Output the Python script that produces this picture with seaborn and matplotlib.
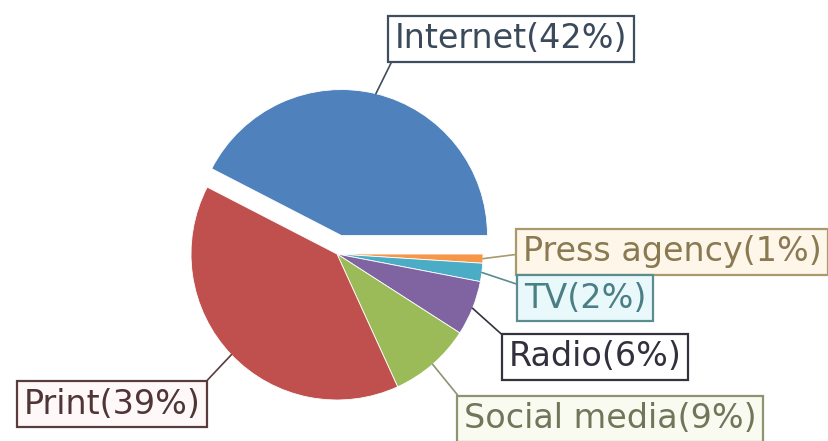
import numpy as np
import matplotlib
matplotlib.use("Agg")
import matplotlib.pyplot as plt
import seaborn as sns

# ---- data ----
categories = ["Internet", "Press agency", "TV", "Radio", "Social media", "Print"]
shares = [42, 1, 2, 6, 9, 39]
slice_colors = ["#4F81BD", "#F79646", "#4BACC6", "#8064A2", "#9BBB59", "#C0504D"]

# ---- label styling / layout (pixel coords, top-left origin) ----
label_pos = [(511, 39), (672, 252), (585, 298), (595, 357), (610, 419), (112, 404)]
label_edge = ["#3E4E5E", "#A89A6C", "#5B8C90", "#35313F", "#8C9472", "#5A3C3C"]
label_text = ["#3B4A5A", "#8A7A52", "#4A7F84", "#332F3C", "#70765A", "#4F3535"]
label_fill = ["#FFFFFF", "#FFF6EA", "#E9F8FB", "#FFFFFF", "#F9FBF0", "#FFF8F8"]
label_rel = [(0, 0), (0, 0.45), (0, 0.85), (0, 1), (0, 1), (1, 1)]
explode_frac = [0.13, 0, 0, 0, 0, 0]

W, H = 829, 441
sns.set_theme(style="white")
plt.rcParams["font.family"] = ["DejaVu Sans"]

fig = plt.figure(figsize=(W / 100, H / 100), dpi=100)
ax = fig.add_axes([0, 0, 1, 1])

radius = 146
center = (337, H - 254)
start = 360.0 * shares[0] / sum(shares)
wedges, _ = ax.pie(
    shares,
    colors=slice_colors,
    explode=[e * radius for e in explode_frac],
    startangle=start,
    counterclock=False,
    center=center,
    radius=radius,
    wedgeprops=dict(edgecolor="white", linewidth=0.6),
)

for w, lab, pct, pos, ec, tc, fc, rel in zip(
    wedges, categories, shares, label_pos, label_edge, label_text, label_fill, label_rel
):
    mid = np.deg2rad((w.theta1 + w.theta2) / 2.0)
    cx, cy = w.center
    px = cx + w.r * np.cos(mid)
    py = cy + w.r * np.sin(mid)
    ax.annotate(
        f"{lab}({pct}%)",
        xy=(px, py),
        xytext=(pos[0], H - pos[1]),
        textcoords="data",
        ha="center",
        va="center",
        fontsize=24,
        color=tc,
        bbox=dict(boxstyle="square,pad=0.2", fc=fc, ec=ec, lw=1.6),
        arrowprops=dict(arrowstyle="-", color=ec, lw=1.2, relpos=rel,
                        shrinkA=0, shrinkB=0),
    )

ax.set_xlim(0, W)
ax.set_ylim(0, H)
ax.set_aspect("equal")
ax.axis("off")
fig.savefig("out.png", dpi=100, facecolor="white")
